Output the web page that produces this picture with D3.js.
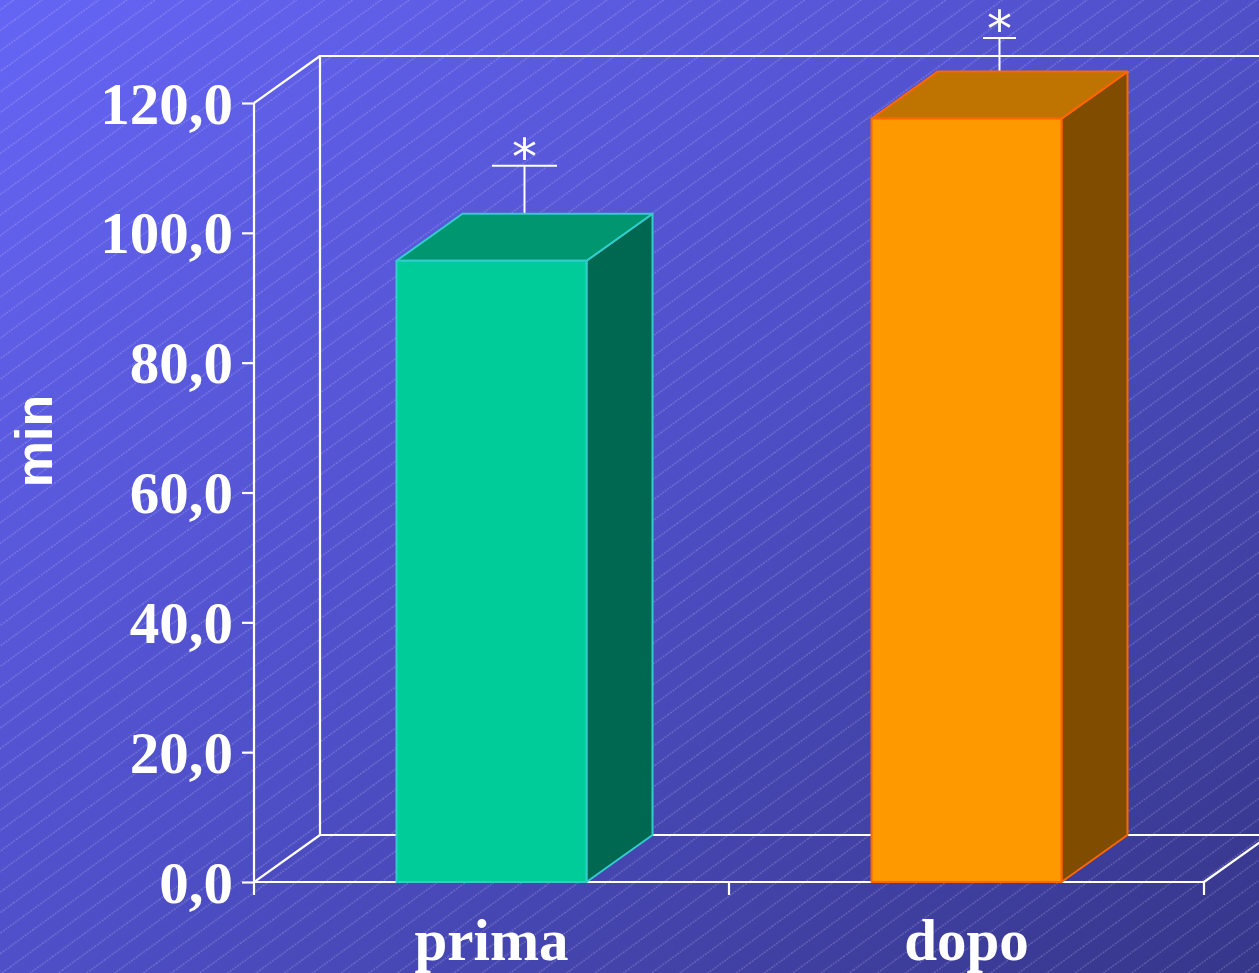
<!DOCTYPE html>
<html>
<head>
<meta charset="utf-8">
<script src="https://cdn.jsdelivr.net/npm/d3@7"></script>
<style>
  html, body { margin: 0; padding: 0; background: #4a4ab8; }
  svg { display: block; }
</style>
</head>
<body>
<script>
// Series: mean time (min) before / after, with standard error and significance marks
const categories = ["prima", "dopo"];
const means = [95.7, 117.6];
const errors = [11.0, 8.8];
const marks = ["*", "*"];
const yTicks = [0, 20, 40, 60, 80, 100, 120];
const yTickLabels = ["0,0", "20,0", "40,0", "60,0", "80,0", "100,0", "120,0"];
const yTitle = "min";

const W = 1259, H = 973;
const frontLeft = 254, frontRight = 1204;
const frontBottom = 882, frontTop = 103;
const depthX = 66, depthY = -47;       // 3D depth offset
const barFrac = 0.4;                    // bar width as fraction of band
const capWidths = [65, 33];

const faceColors = [
  { front: "#00cc99", top: "#009670", side: "#006850", stroke: "#33cccc" },
  { front: "#ff9900", top: "#bf7300", side: "#7f4c00", stroke: "#ff6600" }
];

const svg = d3.select("body").append("svg")
  .attr("width", W).attr("height", H)
  .attr("font-family", "'Liberation Serif', 'Times New Roman', serif");

const defs = svg.append("defs");
const grad = defs.append("linearGradient").attr("id", "bg")
  .attr("x1", 0).attr("y1", 0).attr("x2", 1).attr("y2", 1);
grad.append("stop").attr("offset", "0%").attr("stop-color", "#6565f5");
grad.append("stop").attr("offset", "50%").attr("stop-color", "#4f4fc8");
grad.append("stop").attr("offset", "100%").attr("stop-color", "#36368a");

const hatch = defs.append("pattern").attr("id", "hatch")
  .attr("patternUnits", "userSpaceOnUse")
  .attr("width", 40).attr("height", 16.6)
  .attr("patternTransform", "rotate(-36)");
hatch.append("line")
  .attr("x1", 0).attr("y1", 8).attr("x2", 40).attr("y2", 8)
  .attr("stroke", "rgba(220,220,255,0.32)").attr("stroke-width", 1)
  .attr("stroke-dasharray", "2,1");

svg.append("rect").attr("width", W).attr("height", H).attr("fill", "url(#bg)");
svg.append("rect").attr("width", W).attr("height", H).attr("fill", "url(#hatch)");

// Scales
const x = d3.scaleBand().domain(categories).range([frontLeft, frontRight]).padding(0);
const y = d3.scaleLinear().domain([0, 120]).range([frontBottom, frontTop]);

const line = (pts) => d3.line()(pts);
const frame = svg.append("g")
  .attr("fill", "none").attr("stroke", "#fff").attr("stroke-width", 2.2);

// Back wall and floor outline
const backLeft = frontLeft + depthX, backRight = frontRight + depthX;
const backBottom = frontBottom + depthY, backTop = frontTop + depthY;
frame.append("path").attr("d", line([[backLeft, backBottom], [backLeft, backTop], [backRight, backTop]]));
frame.append("path").attr("d", line([[backLeft, backBottom], [backRight, backBottom], [backRight, backTop]]));
frame.append("path").attr("d", line([[frontLeft, frontTop], [backLeft, backTop]]));
frame.append("path").attr("d", line([[frontLeft, frontBottom], [backLeft, backBottom]]));
frame.append("path").attr("d", line([[frontRight, frontBottom], [backRight, backBottom]]));

// Error bars at mid depth (drawn first, the bar tops cover their base)
const errG = svg.append("g").attr("stroke", "#fff").attr("stroke-width", 2);
categories.forEach((c, i) => {
  const cx = x(c) + x.bandwidth() / 2 + depthX / 2;
  const y0 = y(means[i]) + depthY / 2;
  const y1 = y(means[i] + errors[i]) + depthY / 2;
  errG.append("line").attr("x1", cx).attr("x2", cx).attr("y1", y0).attr("y2", y1);
  errG.append("line").attr("x1", cx - capWidths[i] / 2).attr("x2", cx + capWidths[i] / 2)
    .attr("y1", y1).attr("y2", y1);
  svg.append("text").attr("x", cx).attr("y", y1 + 8)
    .attr("text-anchor", "middle")
    .attr("fill", "#fff")
    .attr("font-family", "'DejaVu Sans', sans-serif")
    .attr("font-size", 50).text(marks[i]);
});

// 3D bars
const bars = svg.append("g");
categories.forEach((c, i) => {
  const bw = x.bandwidth() * barFrac;
  const x0 = x(c) + (x.bandwidth() - bw) / 2, x1 = x0 + bw;
  const yt = y(means[i]), yb = y(0);
  const col = faceColors[i];
  const g = bars.append("g").attr("stroke", col.stroke).attr("stroke-width", 2)
    .attr("stroke-linejoin", "round");
  g.append("path").attr("fill", col.side)
    .attr("d", line([[x1, yt], [x1 + depthX, yt + depthY], [x1 + depthX, yb + depthY], [x1, yb]]) + "Z");
  g.append("path").attr("fill", col.top)
    .attr("d", line([[x0, yt], [x0 + depthX, yt + depthY], [x1 + depthX, yt + depthY], [x1, yt]]) + "Z");
  g.append("rect").attr("fill", col.front)
    .attr("x", x0).attr("y", yt).attr("width", bw).attr("height", yb - yt);
});

// Front axes
const yAxis = d3.axisLeft(y).tickValues(yTicks)
  .tickFormat((d, i) => yTickLabels[i]).tickSize(12).tickSizeOuter(0).tickPadding(9);
const yg = svg.append("g").attr("transform", `translate(${frontLeft},0)`).call(yAxis);
yg.select(".domain").remove();
yg.selectAll(".tick line").attr("stroke", "#fff").attr("stroke-width", 2.2);
yg.selectAll(".tick text").attr("fill", "#fff")
  .attr("font-family", "'Liberation Serif', 'Times New Roman', serif")
  .attr("font-weight", "bold").attr("font-size", 59).attr("dy", "0.34em");

frame.append("path").attr("d", line([[frontLeft, frontTop], [frontLeft, frontBottom + 13]]));
frame.append("path").attr("d", line([[frontLeft, frontBottom], [frontRight, frontBottom]]));

// Category boundary ticks
const bounds = categories.map(c => x(c) + x.bandwidth());
frame.selectAll(".btick").data(bounds).enter().append("path")
  .attr("d", d => line([[d, frontBottom], [d, frontBottom + 13]]));

const xAxis = d3.axisBottom(x).tickSize(0).tickPadding(0);
const xg = svg.append("g").attr("transform", `translate(0,${frontBottom})`).call(xAxis);
xg.select(".domain").remove();
xg.selectAll(".tick text").attr("fill", "#fff")
  .attr("font-family", "'Liberation Serif', 'Times New Roman', serif")
  .attr("font-weight", "bold").attr("font-size", 59)
  .attr("dy", null).attr("y", 78);

// Y title
svg.append("text")
  .attr("transform", "translate(52,441) rotate(-90)")
  .attr("text-anchor", "middle").attr("fill", "#fff")
  .attr("font-family", "'Liberation Sans', Arial, sans-serif")
  .attr("font-weight", "bold").attr("font-size", 52)
  .text(yTitle);
</script>
</body>
</html>
